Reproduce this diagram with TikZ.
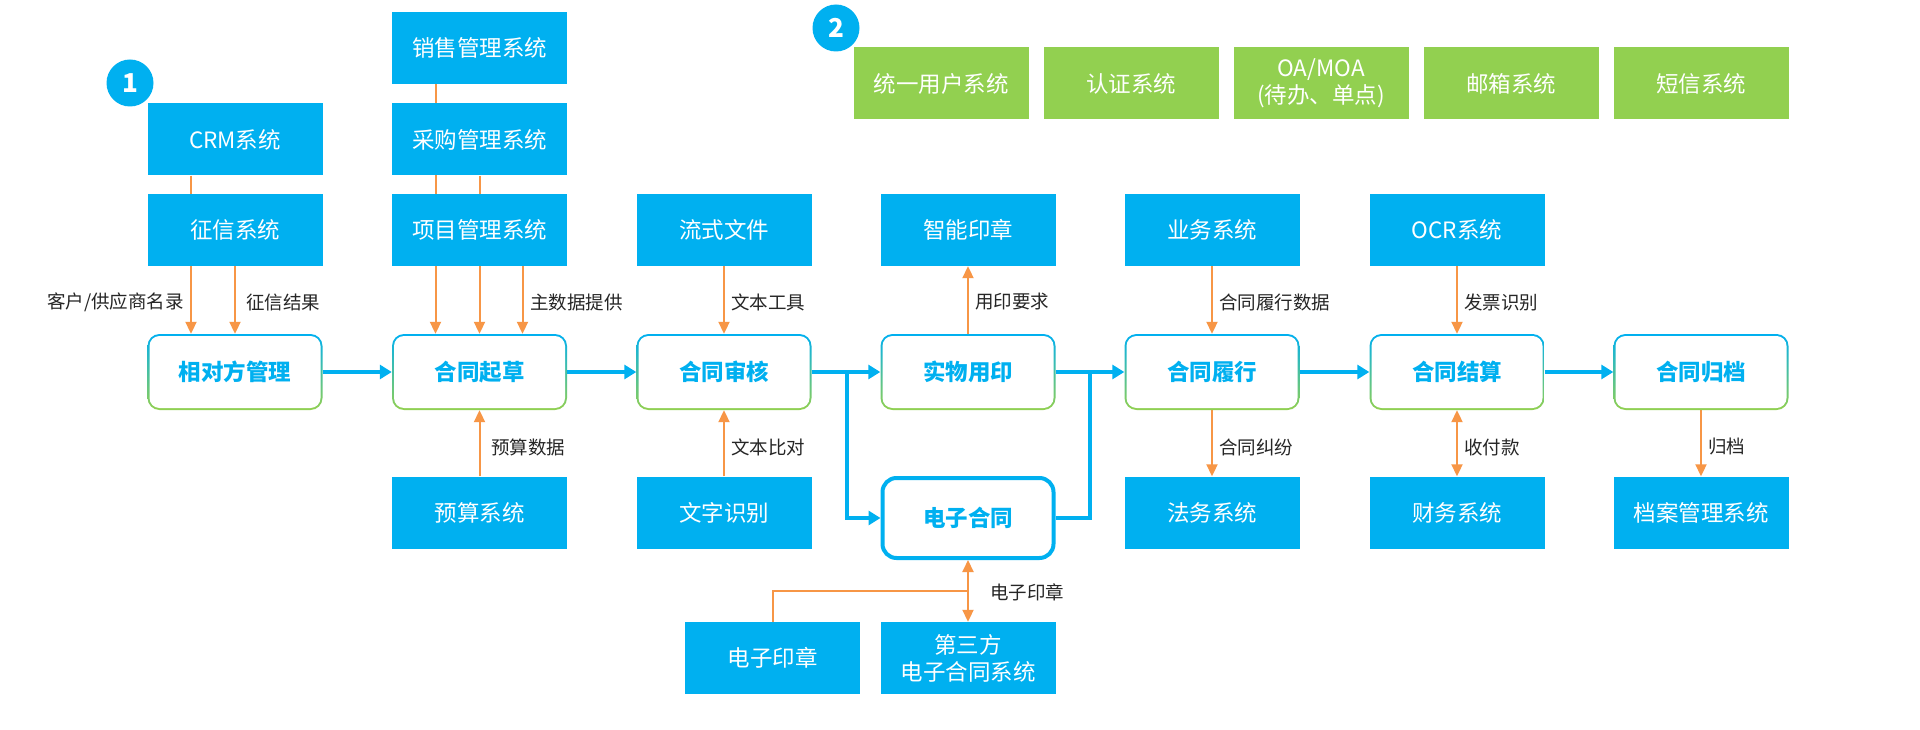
\documentclass[tikz,border=0pt]{standalone}
\usepackage{fontspec}
\setmainfont{Noto Sans CJK SC}
\usetikzlibrary{arrows.meta,calc,backgrounds}
\definecolor{cblue}{HTML}{00B0F0}
\definecolor{cgreen}{HTML}{92D050}
\definecolor{corange}{HTML}{F79646}
\definecolor{ctext}{HTML}{262626}
\tikzset{
  sysbox/.style={fill=cblue, text=white, minimum width=175pt, minimum height=72pt, inner sep=0pt, font=\fontsize{22.5}{27}\selectfont, align=center},
  grnbox/.style={sysbox, fill=cgreen},
  mainbox/.style={minimum width=175pt, minimum height=76pt, inner sep=0pt, rounded corners=12pt,
    top color=cblue, bottom color=cgreen, text=cblue, font=\fontsize{22.5}{27}\selectfont\bfseries,
    path picture={\fill[white, rounded corners=10pt] ([shift={(2pt,-2pt)}]path picture bounding box.north west) rectangle ([shift={(-2pt,2pt)}]path picture bounding box.south east);}},
  ebox/.style={draw=cblue, line width=4pt, fill=white, rounded corners=14pt, minimum width=171pt, minimum height=80pt, inner sep=0pt, text=cblue, font=\fontsize{22.5}{27}\selectfont\bfseries},
  badge/.style={circle, fill=cblue, text=white, minimum size=47pt, inner sep=0pt, font=\fontsize{26}{26}\selectfont\bfseries},
  lab/.style={text=ctext, inner sep=0pt, font=\fontsize{18.5}{20}\selectfont},
  oline/.style={draw=corange, line width=2pt},
  oarr/.style={oline, -{Triangle[length=12pt,width=11pt]}},
  oboth/.style={oline, {Triangle[length=12pt,width=11pt]}-{Triangle[length=12pt,width=11pt]}},
  bline/.style={draw=cblue, line width=4pt},
  barr/.style={bline, -{Triangle[length=12pt,width=14pt]}}
}
\begin{document}
\begin{tikzpicture}[x=1pt,y=-1pt]
\useasboundingbox (0,0) rectangle (1920,730);
% top-left systems
\node[sysbox] (xs) at (479.5,48) {销售管理系统};
\node[sysbox] (cg) at (479.5,139.5) {采购管理系统};
\node[sysbox] (crm) at (235,139.5) {CRM系统};
\node[sysbox] (zx) at (235,230) {征信系统};
\node[sysbox] (xm) at (479.5,230) {项目管理系统};
\node[sysbox] (lswj) at (724,230) {流式文件};
\node[sysbox] (znyz) at (968,230) {智能印章};
\node[sysbox] (ywxt) at (1212,230) {业务系统};
\node[sysbox] (ocr) at (1457,230) {OCR系统};
% green row
\node[grnbox] (g1) at (941,83.5) {统一用户系统};
\node[grnbox] (g2) at (1131,83.5) {认证系统};
\node[grnbox] (g3) at (1321,83.5) {OA/MOA\\(待办、单点)};
\node[grnbox] (g4) at (1511,83.5) {邮箱系统};
\node[grnbox] (g5) at (1701,83.5) {短信系统};
% main row
\node[mainbox] (xdf) at (235,372) {相对方管理};
\node[mainbox] (qc) at (479.5,372) {合同起草};
\node[mainbox] (sh) at (724,372) {合同审核};
\node[mainbox] (swyy) at (968,372) {实物用印};
\node[mainbox] (lx) at (1212,372) {合同履行};
\node[mainbox] (js) at (1457,372) {合同结算};
\node[mainbox] (gd) at (1701,372) {合同归档};
% bottom row
\node[sysbox] (ys) at (479.5,512.5) {预算系统};
\node[sysbox] (wzsb) at (724,512.5) {文字识别};
\node[ebox] (dzht) at (968,518) {电子合同};
\node[sysbox] (fw) at (1212,512.5) {法务系统};
\node[sysbox] (cw) at (1457,512.5) {财务系统};
\node[sysbox] (da) at (1701,512.5) {档案管理系统};
\node[sysbox] (dzyz) at (772.5,658) {电子印章};
\node[sysbox] (dsf) at (968,658) {第三方\\电子合同系统};
% badges
\node[badge] (b1) at (130,83) {1};
\node[badge] (b2) at (836,28) {2};
% labels
\node[lab, anchor=east] (l1) at (184,302) {客户/供应商名录};
\node[lab, anchor=west] (l2) at (246,302) {征信结果};
\node[lab, anchor=west] (l3) at (530,302) {主数据提供};
\node[lab, anchor=west] (l4) at (731,302) {文本工具};
\node[lab, anchor=west] (l5) at (975,302) {用印要求};
\node[lab, anchor=west] (l6) at (1219,302) {合同履行数据};
\node[lab, anchor=west] (l7) at (1464,302) {发票识别};
\node[lab, anchor=west] (l8) at (491,447) {预算数据};
\node[lab, anchor=west] (l9) at (731,447) {文本比对};
\node[lab, anchor=west] (l10) at (1219,447) {合同纠纷};
\node[lab, anchor=west] (l11) at (1464,447) {收付款};
\node[lab, anchor=west] (l12) at (1708,447) {归档};
\node[lab, anchor=west] (l13) at (990,592) {电子印章};
% orange connectors behind boxes
\begin{scope}[on background layer]
\fill[white] (0,0) rectangle (1920,730);
\draw[oarr] ($(crm.south)+(-44,0)$) -- ($(xdf.north)+(-44,0)$);
\draw[oarr] (zx.south) -- (xdf.north);
\draw[oarr] ($(xs.south)+(-44,0)$) -- ($(qc.north)+(-44,0)$);
\draw[oarr] (cg.south) -- (qc.north);
\draw[oarr] ($(xm.south)+(43,0)$) -- ($(qc.north)+(43,0)$);
\draw[oarr] (lswj.south) -- (sh.north);
\draw[oarr] (swyy.north) -- (znyz.south);
\draw[oarr] (ywxt.south) -- (lx.north);
\draw[oarr] (ocr.south) -- (js.north);
\draw[oarr] (ys.north) -- (qc.south);
\draw[oarr] (wzsb.north) -- (sh.south);
\draw[oarr] (lx.south) -- (fw.north);
\draw[oboth] (js.south) -- (cw.north);
\draw[oarr] (gd.south) -- (da.north);
\draw[oboth] (dzht.south) -- (dsf.north);
\draw[oline] (dzyz.north) |- ($(dzht.south)!0.5!(dsf.north)$);
\end{scope}
% blue flow
\draw[barr] (xdf.east) -- (qc.west);
\draw[barr] (qc.east) -- (sh.west);
\draw[barr] (sh.east) -- (swyy.west);
\draw[barr] ($(sh.east)+(35,0)$) |- (dzht.west);
\draw[bline] (dzht.east) -| ($(swyy.east)+(34,0)$);
\draw[barr] (swyy.east) -- (lx.west);
\draw[barr] (lx.east) -- (js.west);
\draw[barr] (js.east) -- (gd.west);
\end{tikzpicture}
\end{document}
